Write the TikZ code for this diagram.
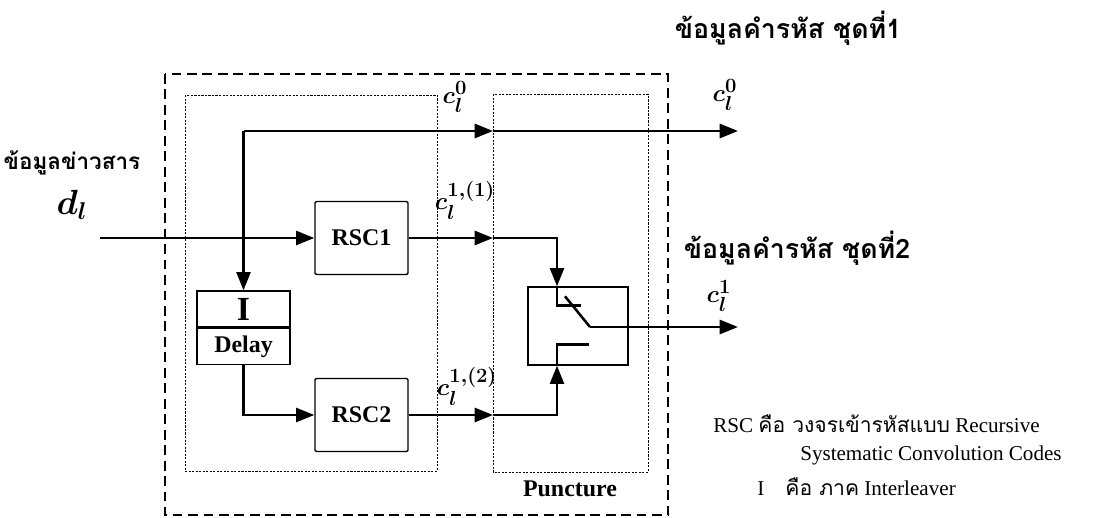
\documentclass[tikz,border=0pt]{standalone}
\usepackage{fontspec}
\usepackage{amsmath,bm}
\setmainfont{Liberation Serif}
\newfontfamily\thaifont[Script=Thai]{Loma}
\usetikzlibrary{arrows.meta,positioning,calc}

\begin{document}
\begin{tikzpicture}[x=0.025cm,y=-0.025cm,
  every node/.style={inner sep=0pt},
  blk/.style={draw,line width=1pt,rounded corners=1pt,
              minimum width=2.325cm,minimum height=1.825cm,
              font=\fontsize{17}{20}\selectfont\bfseries},
  half/.style={draw,line width=1pt,minimum width=2.325cm,minimum height=0.9cm},
  wire/.style={line width=1.8pt},
  arr/.style={wire,-{Triangle[length=13pt,width=10pt]}},
  frame/.style={dash pattern=on 7pt off 4pt,line width=1.4pt},
  subframe/.style={dash pattern=on 1.5pt off 1pt,line width=0.7pt},
  lbl/.style={font=\fontsize{19}{22}\selectfont},
  thai/.style={font=\thaifont\bfseries\fontsize{19}{22}\selectfont},
  note/.style={font=\fontsize{15}{18}\selectfont,anchor=west}
]
\useasboundingbox (0,0) rectangle (1100,518);

% frames
\draw[frame] (165,74) rectangle (668,515);
\draw[subframe] (185,95) rectangle (437,471);
\draw[subframe] (493,94) rectangle (648,472);
\node[font=\fontsize{17}{20}\selectfont\bfseries] (punc) at (570,489) {Puncture};

% blocks
\node[blk] (rscA) at (361.5,238) {RSC1};
\node[blk] (rscB) at (361.5,415) {RSC2};
\node[half,font=\fontsize{24}{26}\selectfont\bfseries] (intl) at (243.5,309) {I};
\node[half,font=\fontsize{17}{20}\selectfont\bfseries,below=0pt of intl] (dly) {Delay};
\node[draw,line width=1pt,minimum width=2.5cm,minimum height=1.95cm] (sw) at (578,326) {};

% points on the wires
\coordinate (din) at (100,238);
\coordinate (tap) at (243.5,131);
\coordinate (p0) at (493,131);
\coordinate (p1) at (493,238);
\coordinate (p2) at (493,415);
\coordinate (o0) at (738,131);
\coordinate (o1) at (738,327);
\coordinate (pv) at (590,327);
\coordinate (swA) at ($(sw.north)+(-21,0)$);
\coordinate (swB) at ($(sw.south)+(-21,0)$);

% wires
\draw[arr] (din) -- (rscA);
\draw[arr] (tap) -- (intl);
\draw[arr] (tap) -- (p0);
\draw[arr] (p0) -- (o0);
\draw[arr] (dly.south) |- (rscB.west);
\draw[arr] (rscA) -- (p1);
\draw[arr] (rscB) -- (p2);
\draw[arr] (p1) -| (swA);
\draw[arr] (p2) -| (swB);
% switch
\draw[wire] (swA) -- ++(0,19) -- ++(24,0);
\draw[wire] ($(sw.north)+(-13,10)$) -- (pv);
\draw[arr] (pv) -- (o1);
\draw[wire] (swB) -- ++(0,-21) -- ++(32,0);

% labels
\node[lbl] (c0a) at (455,97) {$\bm{c_l^{0}}$};
\node[lbl] (c0b) at (725,95) {$\bm{c_l^{0}}$};
\node[lbl] (c11) at (465,200) {$\bm{c_l^{1,(1)}}$};
\node[lbl] (c12) at (467,386) {$\bm{c_l^{1,(2)}}$};
\node[lbl] (c1) at (719,296) {$\bm{c_l^{1}}$};
\node[font=\fontsize{23}{25}\selectfont] (dl) at (72,205) {$\bm{d_l}$};
\node[thai,font=\thaifont\bfseries\fontsize{16}{20}\selectfont] (msg) at (72,163) {ข้อมูลข่าวสาร};
\node[thai] (cw1) at (788,28) {ข้อมูลคำรหัส ชุดที่1};
\node[thai] (cw2) at (797,248) {ข้อมูลคำรหัส ชุดที่2};

% legend
\node[note] (lg1) at (713,424) {RSC {\thaifont คือ วงจรเข้ารหัสแบบ} Recursive};
\node[note] (lg2) at (800,455) {Systematic Convolution Codes};
\node[note] (lg3) at (757,487) {I\quad{\thaifont คือ ภาค} Interleaver};
\end{tikzpicture}
\end{document}
